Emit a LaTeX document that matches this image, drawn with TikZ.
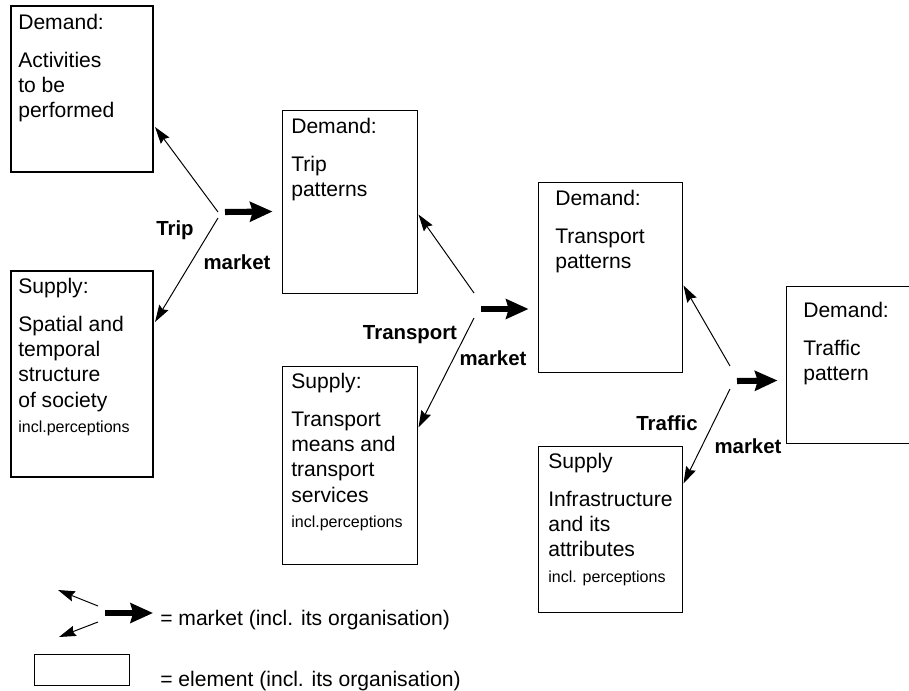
\documentclass[tikz,border=0pt]{standalone}
\usepackage{fontspec}
\setmainfont{Liberation Sans}
\usetikzlibrary{arrows.meta,calc,fit}

\tikzset{
  elem/.style={draw, line width=0.7pt, inner sep=0pt},
  bigelem/.style={elem, line width=1.5pt},
  keytext/.style={anchor=base west, inner sep=0pt, font=\fontsize{15}{17.8}\selectfont},
  boxtext/.style={keytext, anchor=north west, yshift=10.8pt, align=left},
  mlabel/.style={inner sep=0pt, font=\bfseries\fontsize{14.5}{17}\selectfont},
  link/.style={line width=0.7pt, -{Stealth[length=12pt,width=7.5pt,inset=1.5pt]}},
  flow/.style={line width=4.3pt, -{Stealth[length=16pt,width=14pt,inset=2pt]}},
}
\newcommand{\incl}[1]{{\fontsize{11.4}{13}\selectfont #1}}

\begin{document}
\begin{tikzpicture}[x=0.025cm, y=-0.025cm]
    \useasboundingbox (0,0) rectangle (909,691);

    % elements
    \node[bigelem, fit={(11,6) (153,172)}] (act) {};
    \node[bigelem, fit={(11,271) (153,477)}] (soc) {};
    \node[elem, fit={(282,110) (417,293)}] (trip) {};
    \node[elem, fit={(282,366) (417,564)}] (means) {};
    \node[elem, fit={(538,182) (682,372)}] (transp) {};
    \node[elem, fit={(538,446) (682,612)}] (infra) {};
    \node[elem, fit={(786,286) (915,443)}] (traffic) {};

    \node[boxtext] (actT) at (18,29) {Demand:\\[9.6pt]Activities\\to be\\performed};
    \node[boxtext] (socT) at (18,293) {Supply:\\[9.6pt]Spatial and\\temporal\\structure\\of society\\\incl{incl.perceptions}};
    \node[boxtext] (tripT) at (291,133) {Demand:\\[9.6pt]Trip\\patterns};
    \node[boxtext] (meansT) at (291,388) {Supply:\\[9.6pt]Transport\\means and\\transport\\services\\\incl{incl.perceptions}};
    \node[boxtext] (transpT) at (555,205) {Demand:\\[9.6pt]Transport\\patterns};
    \node[boxtext] (infraT) at (548,468) {Supply\\[9.6pt]Infrastructure\\and its\\attributes\\\incl{incl. perceptions}};
    \node[boxtext] (trafficT) at (803,317) {Demand:\\[9.6pt]Traffic\\pattern};

    % markets
    \coordinate (m1) at (218,215);
    \coordinate (m2) at (474,305);
    \coordinate (m3) at (730,378);

    \draw[link] ($(m1)+(0,-3)$) -- ($(act.south east)+(1,-46)$);
    \draw[link] ($(m1)+(0,3)$) -- ($(soc.north east)+(1,52)$);
    \draw[flow] ($(m1)+(7,-3)$) -- ($(trip.west)+(-9,10)$);
    \node[mlabel] at (175,230) {Trip};
    \node[mlabel] at (237,262) {market};

    \draw[link] ($(m2)+(0,-12)$) -- ($(trip.south east)+(1,-79)$);
    \draw[link] ($(m2)+(0,13)$) -- ($(means.north east)+(1,62)$);
    \draw[flow] ($(m2)+(7,4)$) -- ($(transp.west)+(-9,32)$);
    \node[mlabel] at (410,335) {Transport};
    \node[mlabel] at (493,358) {market};

    \draw[link] ($(m3)+(0,-12)$) -- ($(transp.north east)+(1,104)$);
    \draw[link] ($(m3)+(0,11)$) -- ($(infra.north east)+(1,38)$);
    \draw[flow] ($(m3)+(7,3)$) -- ($(traffic.west)+(-8,16)$);
    \node[mlabel] at (667,423) {Traffic};
    \node[mlabel] at (748,446) {market};

    % key
    \coordinate (key) at (98,614);
    \draw[link] ($(key)+(0,-8)$) -- (58,590);
    \draw[link] ($(key)+(0,8)$) -- (59,637);
    \draw[flow] ($(key)+(7,-1)$) -- (153,613);
    \node[keytext] (keyflow) at (160,625) {= market (incl. its organisation)};
    \node[elem, fit={(34,654) (129,685)}] (keybox) {};
    \node[keytext] (keyelem) at (160,686) {= element (incl. its organisation)};
\end{tikzpicture}
\end{document}
